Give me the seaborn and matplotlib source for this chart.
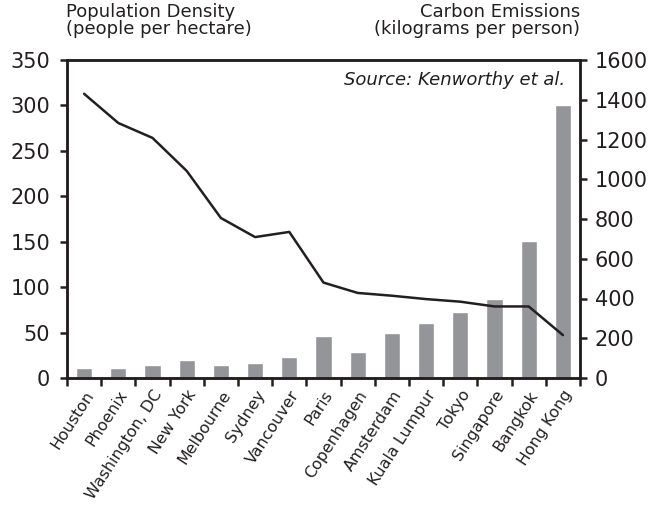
import numpy as np
import pandas as pd
import matplotlib
matplotlib.use("Agg")
import matplotlib.pyplot as plt
import seaborn as sns

cities = ["Houston", "Phoenix", "Washington, DC", "New York", "Melbourne", "Sydney",
          "Vancouver", "Paris", "Copenhagen", "Amsterdam", "Kuala Lumpur", "Tokyo",
          "Singapore", "Bangkok", "Hong Kong"]
density = [11, 11, 14, 20, 14, 16, 23, 46, 29, 49, 60, 73, 87, 151, 300]
emissions = [1430, 1283, 1208, 1042, 805, 709, 735, 480, 428, 414, 397, 384, 360, 360, 216]

left_ticks = [0, 50, 100, 150, 200, 250, 300, 350]
right_ticks = [0, 200, 400, 600, 800, 1000, 1200, 1400, 1600]

sns.set_style("white")
plt.rcParams["font.family"] = ["DejaVu Sans"]

INK = "#231f20"
BAR = "#939598"

df = pd.DataFrame({"pos": np.arange(len(cities)), "city": cities,
                   "density": density, "emissions": emissions})

fig = plt.figure(figsize=(6.53, 5.05), dpi=100)
ax = fig.add_axes([67 / 653, 1 - 378 / 505, (580 - 67) / 653, (378 - 60) / 505])

sns.barplot(data=df, x="pos", y="density", color=BAR, width=0.47,
            saturation=1, native_scale=True, ax=ax)
ax.set_xlim(-0.5, len(cities) - 0.5)
ax.set_ylim(0, 350)
ax.set_yticks(left_ticks)
ax.set_xlabel("")
ax.set_ylabel("")

ax2 = ax.twinx()
sns.lineplot(data=df, x="pos", y="emissions", color=INK, linewidth=1.8, ax=ax2)
ax2.set_ylim(0, 1600)
ax2.set_yticks(right_ticks)
ax2.set_ylabel("")
ax2.set_xlim(-0.5, len(cities) - 0.5)

# tick marks at category boundaries, labels at category centres
ax.set_xticks(np.arange(len(cities) + 1) - 0.5)
ax.set_xticklabels([])
ax.set_xticks(np.arange(len(cities)), minor=True)
ax.set_xticklabels(cities, minor=True, rotation=57, ha="right",
                   rotation_mode="anchor", fontsize=11.4, color=INK)
ax.tick_params(axis="x", which="major", direction="out", length=6, width=1.8,
               color=INK, bottom=True)
ax.tick_params(axis="x", which="minor", length=0, pad=7)
ax.tick_params(axis="y", direction="out", length=5, width=1.8, color=INK,
               labelsize=15, labelcolor=INK, left=True, pad=7)
ax2.tick_params(axis="y", direction="out", length=5, width=1.8, color=INK,
                labelsize=15, labelcolor=INK, right=True, pad=5.5)

for a in (ax, ax2):
    for s in a.spines.values():
        s.set_visible(True)
        s.set_color(INK)
        s.set_linewidth(1.8)

fig.text(66 / 653, 1 - 3 / 505, "Population Density\n(people per hectare)",
         ha="left", va="top", fontsize=13, color=INK, linespacing=0.95)
fig.text(580 / 653, 1 - 3 / 505, "Carbon Emissions\n(kilograms per person)",
         ha="right", va="top", fontsize=13, color=INK, linespacing=0.95)
ax2.text(0.971, 0.965, "Source: Kenworthy et al.", transform=ax2.transAxes,
         ha="right", va="top", fontsize=13, style="italic", color=INK)

fig.savefig("out.png", dpi=100)
